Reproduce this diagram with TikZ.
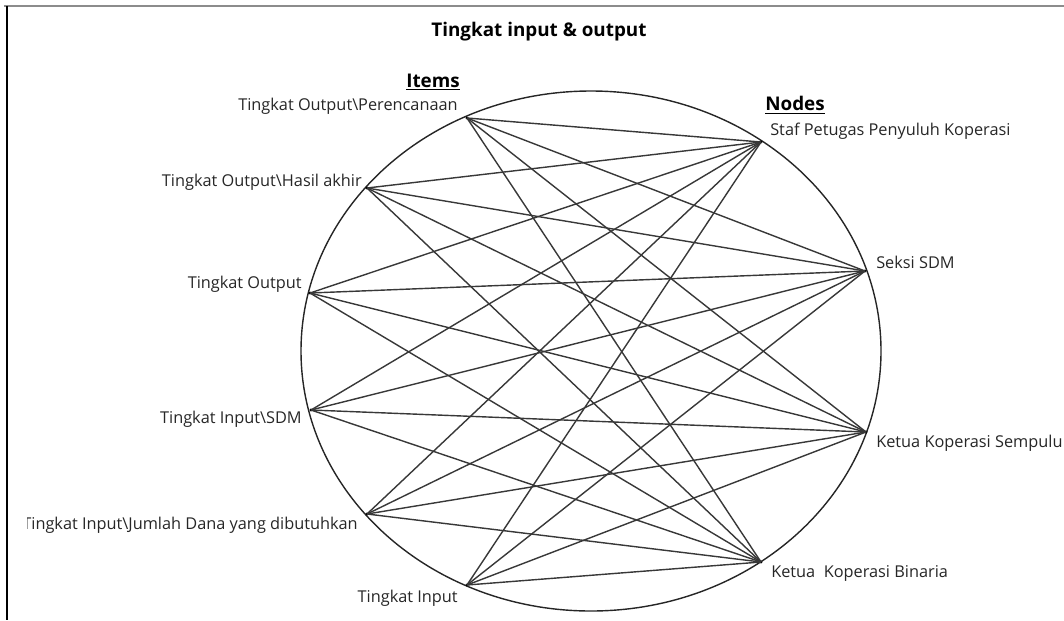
\documentclass[tikz,border=0pt]{standalone}
\usepackage{fontspec}
\setmainfont{Open Sans}
\tikzset{
  lbl/.style={font=\fontsize{11.6}{13}\selectfont, inner sep=0pt, text=black!85},
  hd/.style={font=\bfseries\fontsize{13.4}{15}\selectfont, inner sep=0pt},
  pt/.style={circle, fill=black, inner sep=0pt, minimum size=2.4pt},
  link/.style={line width=1pt, draw=black!78},
  rim/.style={line width=1pt, draw=black!85},
}

\begin{document}
\begin{tikzpicture}[x=0.025cm, y=-0.025cm]
  \useasboundingbox (0,0) rectangle (1064,620);
  % frame
  \draw[draw=black!45, line width=0.8pt] (4,6) -- (1064,6);
  \draw[line width=1.2pt] (7,6) -- (7,620);

  \node[hd] (title) at (539,32) {Tingkat input \& output};
  \node[hd] (items) at (433,82) {\underline{Items}};
  \node[hd] (nodes) at (795,105) {\underline{Nodes}};

  % outer ring
  \draw[rim] (591,351) ellipse [x radius=290, y radius=260];

  % items (left side)
  \node[pt] (i1) at (467,118) {};
  \node[pt] (i2) at (367,188) {};
  \node[pt] (i3) at (310,293) {};
  \node[pt] (i4) at (311,410) {};
  \node[pt] (i5) at (367,514) {};
  \node[pt] (i6) at (467,585) {};

  % nodes (right side)
  \node[pt] (n1) at (761,142) {};
  \node[pt] (n2) at (865,271) {};
  \node[pt] (n3) at (866,432) {};
  \node[pt] (n4) at (761,562) {};

  \node[lbl, anchor=east] (li1) at (458,106) {Tingkat Output\textbackslash Perencanaan};
  \node[lbl, anchor=east] (li2) at (362,182) {Tingkat Output\textbackslash Hasil akhir};
  \node[lbl, anchor=east] (li3) at (302,284) {Tingkat Output};
  \node[lbl, anchor=east] (li4) at (302,419) {Tingkat Input\textbackslash SDM};
  \begin{scope}
    \clip (27,480) rectangle (400,560);
    \node[lbl, anchor=east] (li5) at (358,525) {Tingkat Input\textbackslash Jumlah Dana yang dibutuhkan};
  \end{scope}
  \node[lbl, anchor=east] (li6) at (458,598) {Tingkat Input};

  \node[lbl, anchor=west] (ln1) at (770,131) {Staf Petugas Penyuluh Koperasi};
  \node[lbl, anchor=west] (ln2) at (876,262) {Seksi SDM};
  \node[lbl, anchor=west] (ln3) at (876,443) {Ketua Koperasi Sempulu};
  \node[lbl, anchor=west] (ln4) at (771,573) {Ketua\ \ Koperasi Binaria};

  % every item to every node
  \foreach \i in {i1,i2,i3,i4,i5,i6}
    \foreach \n in {n1,n2,n3,n4}
      \draw[link] (\i.center) -- (\n.center);
\end{tikzpicture}
\end{document}
